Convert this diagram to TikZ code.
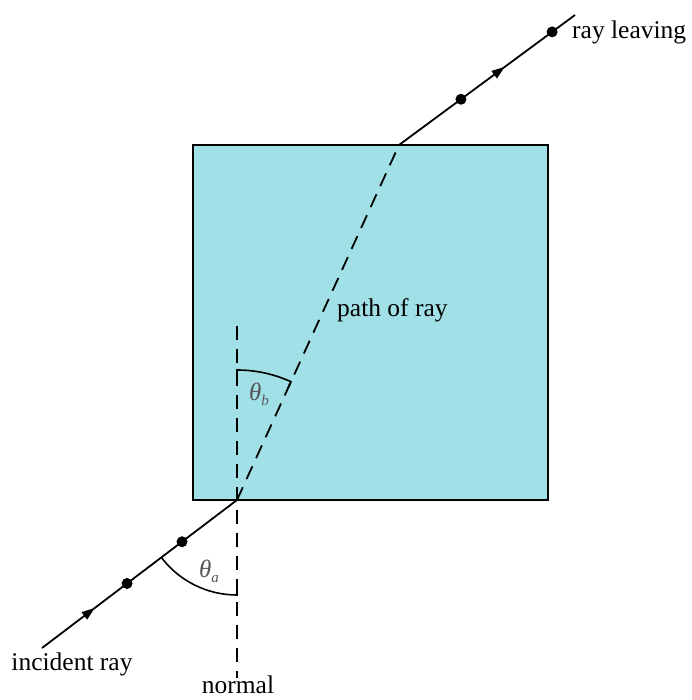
\documentclass[tikz,border=0pt]{standalone}
\usepackage{fontspec}
\setmainfont{Liberation Serif}
\usetikzlibrary{decorations.markings,arrows.meta,calc}
\definecolor{glass}{RGB}{160,224,230}
\definecolor{thetagray}{RGB}{85,85,85}
\newcommand{\angname}[1]{{\itshape θ}\raisebox{-5pt}{\fontsize{15}{17}\selectfont\itshape #1}}
\tikzset{
  ray/.style={line width=1.8pt},
  dashline/.style={line width=1.8pt,dash pattern=on 14pt off 9pt},
  raydot/.style={circle,fill=black,inner sep=0pt,minimum size=11pt},
  lbl/.style={font=\fontsize{25.5}{29}\selectfont,inner sep=0pt},
  anglbl/.style={font=\fontsize{25}{28}\selectfont,text=thetagray,inner sep=0pt},
  anglearc/.style={line width=1.6pt},
  midarrow/.style={postaction={decorate},decoration={markings,
     mark=at position #1 with {\arrow{Triangle[length=13pt,width=9pt]}}}}
}
\begin{document}
\begin{tikzpicture}[x=1pt,y=-1pt]
\useasboundingbox (0,0) rectangle (691,700);
% box
\coordinate (bl) at (193,500);
\coordinate (tr) at (548,145);
\draw[line width=2.2pt,fill=glass] (bl) rectangle (tr);
% key points
\coordinate (entry) at (237,500);
\coordinate (exit) at (399,145);
\coordinate (inc) at (42,648);
\coordinate (leave) at (575,15);
\coordinate (ntop) at (237,326);
\coordinate (nbot) at (237,678);
% normal
\draw[dashline] (ntop) -- (nbot);
% refracted path
\draw[dashline] (entry) -- (exit);
% incident ray
\draw[ray,midarrow=0.27] (inc) -- (entry);
\node[raydot] (d1) at ($(inc)!0.436!(entry)$) {};
\node[raydot] (d2) at ($(inc)!0.718!(entry)$) {};
% leaving ray
\draw[ray,midarrow=0.6] (exit) -- (leave);
\node[raydot] (d3) at ($(exit)!0.352!(leave)$) {};
\node[raydot] (d4) at ($(exit)!0.87!(leave)$) {};
% angle arcs
\draw[anglearc] ([shift={(142.8:95)}]entry) arc[start angle=142.8,end angle=90,radius=95] -- ++(0,-6);
\draw[anglearc] ([shift={(294.5:130)}]entry) ++(-2.5,5.5) -- ++(2.5,-5.5) arc[start angle=294.5,end angle=270,radius=130] -- ++(0,6);
% labels
\node[lbl,anchor=west] (lleave) at (572,32) {ray leaving};
\node[lbl] (linc) at (72,664) {incident ray};
\node[lbl,anchor=west] (lpath) at (337,310) {path of ray};
\node[lbl,anchor=base] (lnorm) at (238,693) {normal};
\node[anglbl] (ta) at (209,571) {\angname{a}};
\node[anglbl] (tb) at (259,394) {\angname{b}};
\end{tikzpicture}
\end{document}
